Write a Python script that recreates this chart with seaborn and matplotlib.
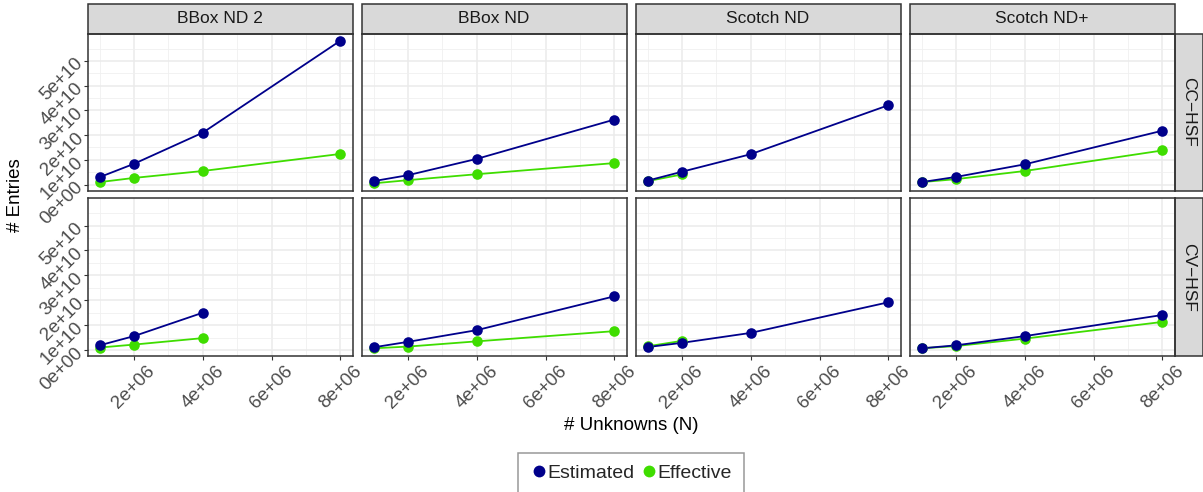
import numpy as np
import pandas as pd
import matplotlib
matplotlib.use('Agg')
import matplotlib.pyplot as plt
import seaborn as sns
from matplotlib.patches import Rectangle
from matplotlib.lines import Line2D
from matplotlib.ticker import FixedLocator, FuncFormatter

# Data (entries in units of 1e10)
unknowns = [1e6, 2e6, 4e6, 8e6]
methods = ['BBox ND 2', 'BBox ND', 'Scotch ND', 'Scotch ND+']
matrices = ['CC\u2212HSF', 'CV\u2212HSF']
types = ['Estimated', 'Effective']

cc_bbox2_est = [0.30, 0.84, 2.10, 5.82]
cc_bbox2_eff = [0.10, 0.27, 0.55, 1.24]
cc_bbox_est = [0.14, 0.38, 1.04, 2.63]
cc_bbox_eff = [0.05, 0.18, 0.42, 0.87]
cc_scotch_est = [0.16, 0.52, 1.23, 3.21]
cc_scotch_eff = [0.14, 0.41]
cc_scotchp_est = [0.10, 0.31, 0.82, 2.18]
cc_scotchp_eff = [0.10, 0.22, 0.55, 1.38]

cv_bbox2_est = [0.19, 0.56, 1.50]
cv_bbox2_eff = [0.10, 0.22, 0.48]
cv_bbox_est = [0.11, 0.33, 0.80, 2.16]
cv_bbox_eff = [0.07, 0.14, 0.35, 0.76]
cv_scotch_est = [0.12, 0.29, 0.69, 1.92]
cv_scotch_eff = [0.15, 0.37]
cv_scotchp_est = [0.07, 0.19, 0.56, 1.41]
cv_scotchp_eff = [0.07, 0.16, 0.46, 1.13]

series = {
    ('CC\u2212HSF', 'BBox ND 2'): (cc_bbox2_est, cc_bbox2_eff),
    ('CC\u2212HSF', 'BBox ND'): (cc_bbox_est, cc_bbox_eff),
    ('CC\u2212HSF', 'Scotch ND'): (cc_scotch_est, cc_scotch_eff),
    ('CC\u2212HSF', 'Scotch ND+'): (cc_scotchp_est, cc_scotchp_eff),
    ('CV\u2212HSF', 'BBox ND 2'): (cv_bbox2_est, cv_bbox2_eff),
    ('CV\u2212HSF', 'BBox ND'): (cv_bbox_est, cv_bbox_eff),
    ('CV\u2212HSF', 'Scotch ND'): (cv_scotch_est, cv_scotch_eff),
    ('CV\u2212HSF', 'Scotch ND+'): (cv_scotchp_est, cv_scotchp_eff),
}

rows = []
for (mat, meth), (est, eff) in series.items():
    for t, vals in zip(types, (est, eff)):
        for n, v in zip(unknowns, vals):
            rows.append({'Matrix': mat, 'Method': meth, 'Type': t,
                         'N': n, 'Entries': v * 1e10})
df = pd.DataFrame(rows)

palette = {'Estimated': '#00008B', 'Effective': '#3FDD00'}

sns.set_theme(style='white')
plt.rcParams['font.family'] = ['Liberation Sans', 'DejaVu Sans']

g = sns.FacetGrid(df, row='Matrix', col='Method', row_order=matrices,
                  col_order=methods, hue='Type', hue_order=['Effective', 'Estimated'],
                  palette=palette, sharex=True, sharey=True, despine=False)
g.map_dataframe(sns.lineplot, x='N', y='Entries', linewidth=1.3, sort=True)
g.map_dataframe(sns.scatterplot, x='N', y='Entries', s=58, linewidth=0, zorder=4)

fig = g.figure
W, H = 1203, 492
fig.set_size_inches(W / 100, H / 100)
fig.set_dpi(100)

# ggplot-like expansion
xmin, xmax = min(unknowns), max(unknowns)
xr = xmax - xmin
ymin, ymax = df['Entries'].min(), df['Entries'].max()
yr = ymax - ymin

left0, pw, gap = 87.5, 265, 9
tops = [33.5, 198.0]
ph = [157.0, 158.0]

for i, mat in enumerate(matrices):
    for j, meth in enumerate(methods):
        ax = g.axes[i, j]
        x0 = left0 + j * (pw + gap)
        ax.set_position([x0 / W, 1 - (tops[i] + ph[i]) / H, pw / W, ph[i] / H])
        ax.set_xlim(xmin - 0.05 * xr, xmax + 0.05 * xr)
        ax.set_ylim(ymin - 0.05 * yr, ymax + 0.05 * yr)
        ax.set_title('')
        ax.set_xlabel('')
        ax.set_ylabel('')
        ax.set_facecolor('white')
        ax.xaxis.set_major_locator(FixedLocator([2e6, 4e6, 6e6, 8e6]))
        ax.xaxis.set_minor_locator(FixedLocator([1e6, 3e6, 5e6, 7e6]))
        ax.yaxis.set_major_locator(FixedLocator([k * 1e10 for k in range(6)]))
        ax.yaxis.set_minor_locator(FixedLocator([(k + 0.5) * 1e10 for k in range(6)]))
        ax.grid(True, which='major', color='#EBEBEB', linewidth=1.1)
        ax.grid(True, which='minor', color='#F0F0F0', linewidth=0.6)
        ax.set_axisbelow(True)
        for sp in ax.spines.values():
            sp.set_color('#333333')
            sp.set_linewidth(1.1)
            sp.set_visible(True)
        ax.tick_params(which='major', length=3, width=0.8, color='#333333',
                       labelsize=13.5, labelcolor='#4D4D4D', pad=2,
                       bottom=(i == 1), left=(j == 0),
                       labelbottom=(i == 1), labelleft=(j == 0))
        ax.tick_params(which='minor', length=0)
        ax.xaxis.set_major_formatter(FuncFormatter(lambda v, p: f'{v:.0e}'))
        ax.yaxis.set_major_formatter(FuncFormatter(lambda v, p: f'{v:.0e}'))
        if i == 1:
            for lab in ax.get_xticklabels():
                lab.set_rotation(45)
                lab.set_ha('center')
                lab.set_va('top')
        if j == 0:
            for lab in ax.get_yticklabels():
                lab.set_rotation(45)
                lab.set_ha('right')
                lab.set_va('center')
                lab.set_rotation_mode('anchor')
        # strips
        if i == 0:
            sh = 29.5
            ax.add_patch(Rectangle((0, 1), 1, sh / ph[i], transform=ax.transAxes,
                                   facecolor='#D9D9D9', edgecolor='#333333',
                                   linewidth=1.1, clip_on=False))
            ax.text(0.5, 1 + sh / 2 / ph[i], meth, transform=ax.transAxes,
                    ha='center', va='center', fontsize=12.5, color='#1A1A1A')
        if j == 3:
            sw = 28
            ax.add_patch(Rectangle((1, 0), sw / pw, 1, transform=ax.transAxes,
                                   facecolor='#D9D9D9', edgecolor='#333333',
                                   linewidth=1.1, clip_on=False))
            ax.text(1 + sw / 2 / pw, 0.5, mat, transform=ax.transAxes,
                    ha='center', va='center', rotation=-90, fontsize=12.5,
                    color='#1A1A1A')

fig.text(15 / W, 1 - 195 / H, '# Entries', rotation=90, ha='center',
         va='center', fontsize=13.5, color='black')
fig.text(631 / W, 1 - 426 / H, '# Unknowns (N)', ha='center', va='center',
         fontsize=13.5, color='black')

handles = [Line2D([], [], marker='o', linestyle='none', color=palette[t],
                  markersize=8.5, markeredgewidth=0) for t in types]
fig.legend(handles, types, loc='upper center', bbox_to_anchor=(631 / W, 1 - 452.5 / H),
           ncol=2, frameon=True, fancybox=False, edgecolor='#7F7F7F',
           fontsize=14, handletextpad=0.0, columnspacing=0.3,
           borderpad=0.6, handlelength=0.9, borderaxespad=0)
fig.legends[0].get_frame().set_linewidth(1.1)

fig.savefig('out.png', dpi=100)
